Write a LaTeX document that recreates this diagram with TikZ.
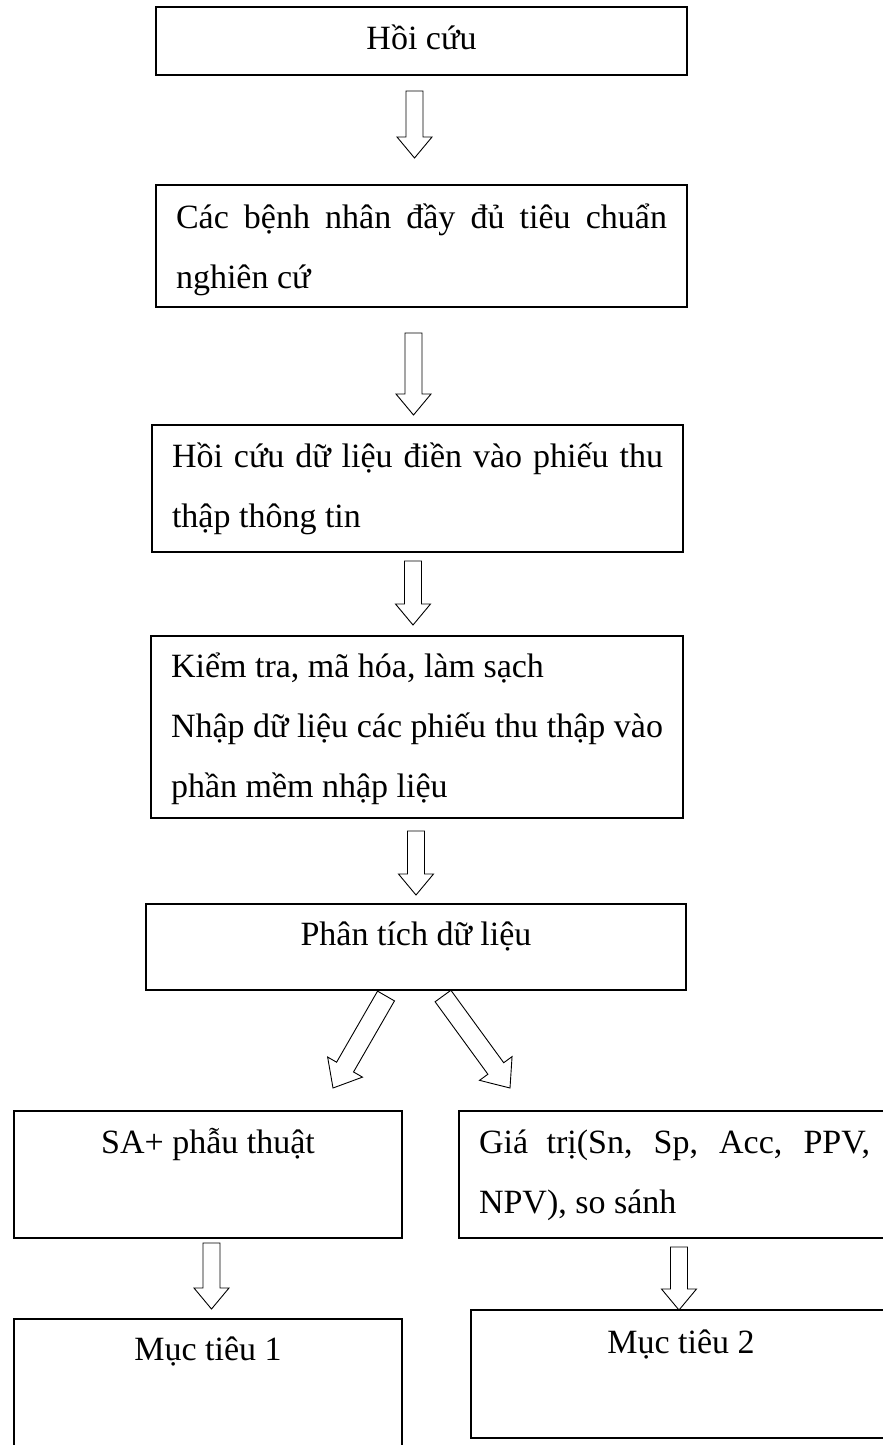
\documentclass[tikz,border=0pt]{standalone}
\usepackage{fontspec}
\setmainfont{Liberation Serif}
\usetikzlibrary{calc,positioning}
\hyphenpenalty=10000
\tolerance=9999
\newcommand*{\boxfont}{\fontsize{34}{60}\selectfont}
% Hollow block arrow from #2 to #3, #1 scales its size
\newcommand*{\blockarrow}[3][1]{%
  \coordinate (ba-s) at #2;
  \coordinate (ba-e) at #3;
  \coordinate (ba-h) at ($(ba-e)!#1*21pt!(ba-s)$);
  \draw[blockline] ($(ba-s)!#1*8.5pt!90:(ba-e)$) -- ($(ba-h)!#1*8.5pt!90:(ba-e)$)
    -- ($(ba-h)!#1*17.5pt!90:(ba-e)$) -- (ba-e) -- ($(ba-h)!#1*17.5pt!-90:(ba-e)$)
    -- ($(ba-h)!#1*8.5pt!-90:(ba-e)$) -- ($(ba-s)!#1*8.5pt!-90:(ba-e)$) -- cycle;
}

\begin{document}
\begin{tikzpicture}[x=1pt,y=-1pt,
  box/.style={draw, line width=1.1pt, anchor=north west, inner xsep=20pt,
    inner ysep=0pt, outer sep=0pt, font=\boxfont},
  blockline/.style={line width=0.9pt, line join=miter}]
\useasboundingbox (0,0) rectangle (883,1445);
% First the boxes of the main column, top to bottom
\node[box, text width=491pt, align=flush center, text height=43pt, text depth=25pt] (hoicuu) at (156,7) {Hồi cứu};
\node[box, text width=491pt, align=justify, text height=43pt, text depth=79pt] (benhnhan) at (156,185)
  {Các bệnh nhân đầy đủ tiêu chuẩn nghiên cứ};
\node[box, text width=491pt, align=justify, text height=42pt, text depth=85pt] (thuthap) at (152,425)
  {Hồi cứu dữ liệu điền vào phiếu thu thập thông tin};
\node[box, text width=492pt, align=justify, text height=41pt, text depth=141pt] (kiemtra) at (151,636)
  {Kiểm tra, mã hóa, làm sạch\\ Nhập dữ liệu các phiếu thu thập vào phần mềm nhập liệu};
\node[box, text width=500pt, align=flush center, text height=41pt, text depth=45pt] (phantich) at (146,904) {Phân tích dữ liệu};
% Then the two branches
\node[box, text width=348pt, align=flush center, text height=42pt, text depth=85pt] (sapt) at (14,1111) {SA+ phẫu thuật};
\node[box, text width=391pt, align=justify, text height=42pt, text depth=85pt] (giatri) at (459,1111)
  {Giá trị(Sn, Sp, Acc, PPV, NPV), so sánh};
\node[box, text width=348pt, align=flush center, text height=41pt, text depth=90pt] (muctieu1) at (14,1319) {Mục tiêu 1};
\node[box, text width=380pt, align=flush center, text height=43pt, text depth=85pt] (muctieu2) at (471,1310) {Mục tiêu 2};
% Now connect the boxes with the hollow arrows
\blockarrow{([xshift=-7pt,yshift=-16pt]hoicuu.south)}{([xshift=-7pt,yshift=27pt]benhnhan.north)}
\blockarrow{([xshift=-8pt,yshift=-26pt]benhnhan.south)}{([xshift=-4pt,yshift=10pt]thuthap.north)}
\blockarrow{([xshift=-4.5pt,yshift=-9pt]thuthap.south)}{([xshift=-4pt,yshift=11pt]kiemtra.north)}
\blockarrow{([xshift=-1pt,yshift=-13pt]kiemtra.south)}{([yshift=9pt]phantich.north)}
% The branch arrows are a little larger
\blockarrow[1.15]{([xshift=-30pt,yshift=-6pt]phantich.south)}{([xshift=125pt,yshift=23pt]sapt.north)}
\blockarrow[1.15]{([xshift=27pt,yshift=-6pt]phantich.south)}{([xshift=-164.5pt,yshift=23pt]giatri.north)}
\blockarrow{([xshift=3.5pt,yshift=-5pt]sapt.south)}{([xshift=3.5pt,yshift=10pt]muctieu1.north)}
\blockarrow{([xshift=4.5pt,yshift=-9pt]giatri.south)}{([xshift=-2pt]muctieu2.north)}
\end{tikzpicture}
\end{document}
